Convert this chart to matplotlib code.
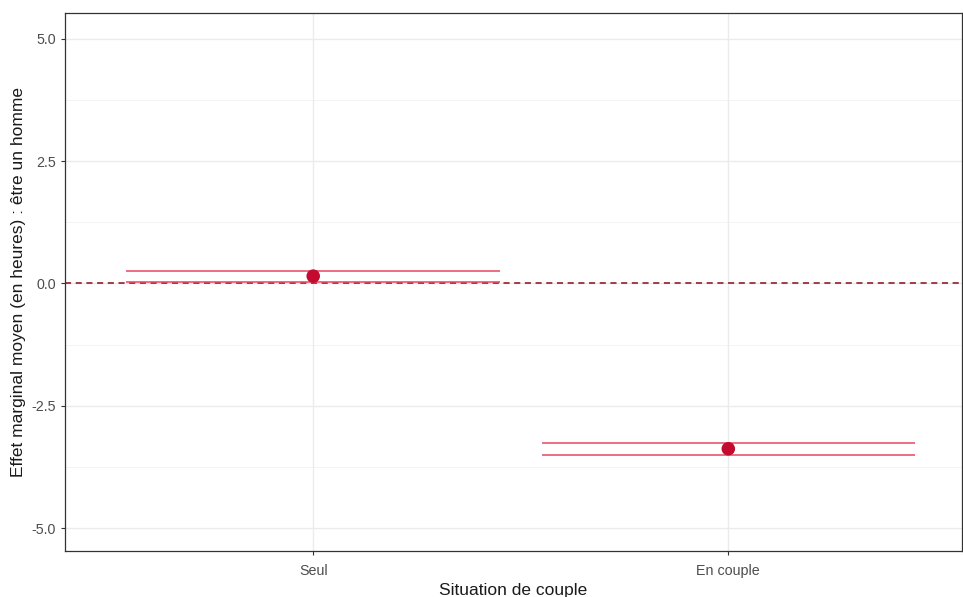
import matplotlib
matplotlib.use("Agg")
import matplotlib.pyplot as plt
import numpy as np

plt.rcParams['font.family'] = ['Liberation Sans', 'DejaVu Sans']

categories = ["Seul", "En couple"]
estimates = [0.15, -3.38]
upper = [0.245, -3.26]
lower = [0.02, -3.51]
yticks = [-5.0, -2.5, 0.0, 2.5, 5.0]
ytick_labels = ["-5.0", "-2.5", "0.0", "2.5", "5.0"]

W, H = 963, 597
fig = plt.figure(figsize=(W / 100, H / 100), dpi=100)
ax = fig.add_axes([65 / W, (H - 551) / H, 897 / W, (551 - 13) / H])

x = np.arange(1, len(categories) + 1)

ax.set_xlim(0.402, 2.563)
ax.set_ylim(-5.47, 5.53)

# grid
for v in [-3.75, -1.25, 1.25, 3.75]:
    ax.axhline(v, color="#F2F2F2", lw=0.6, zorder=0)
for v in yticks:
    ax.axhline(v, color="#EBEBEB", lw=1.0, zorder=0)
for v in x:
    ax.axvline(v, color="#EBEBEB", lw=1.0, zorder=0)

ax.axhline(0, color="#8B0A1A", lw=1.1, ls=(0, (4, 3)), zorder=1)

ax.hlines(upper, x - 0.45, x + 0.45, color="#E8475F", lw=1.1, zorder=2)
ax.hlines(lower, x - 0.45, x + 0.45, color="#E8475F", lw=1.1, zorder=2)
ax.vlines(x, lower, upper, color="#E8475F", lw=1.1, zorder=2)
ax.scatter(x, estimates, s=95, color="#C20B2F", zorder=3, edgecolors="none")

ax.set_xticks(x)
ax.set_xticklabels(categories)
ax.set_yticks(yticks)
ax.set_yticklabels(ytick_labels)
ax.tick_params(axis="both", colors="#333333", labelcolor="#4D4D4D", labelsize=10.3, length=3, width=0.8)
ax.tick_params(axis="x", pad=6.5)

for s in ax.spines.values():
    s.set_color("#333333")
    s.set_linewidth(0.9)

ax.set_xlabel("Situation de couple", fontsize=12.5, color="#1A1A1A")
ax.set_ylabel("Effet marginal moyen (en heures) : être un homme", fontsize=12.5, color="#1A1A1A")
ax.xaxis.set_label_coords(0.5, -(591 - 551) / (551 - 13), transform=ax.transAxes)
ax.xaxis.label.set_va("center")
ax.yaxis.set_label_coords(-(65 - 19) / 897, 0.5, transform=ax.transAxes)
ax.yaxis.label.set_va("center")

fig.savefig("out.png", dpi=100)
